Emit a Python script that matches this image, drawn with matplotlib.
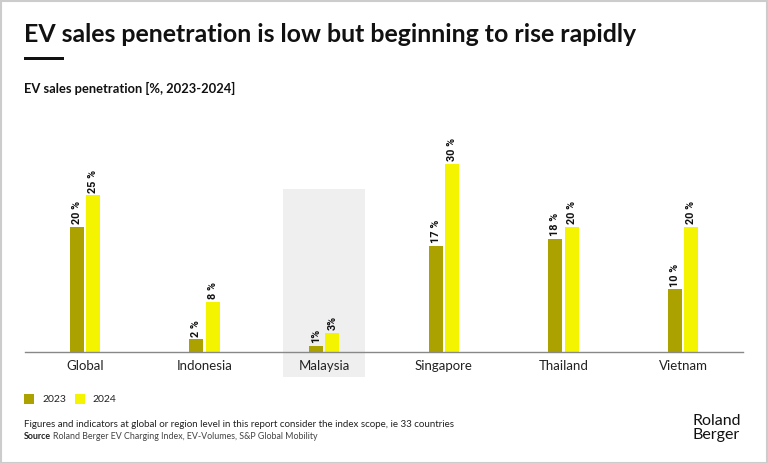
import matplotlib
matplotlib.use('Agg')
import matplotlib.pyplot as plt
from matplotlib.patches import Rectangle
import numpy as np

plt.rcParams['font.family'] = ['Lato', 'DejaVu Sans']

countries = ['Global', 'Indonesia', 'Malaysia', 'Singapore', 'Thailand', 'Vietnam']
sales_2023 = [20, 2, 1, 17, 18, 10]
sales_2024 = [25, 8, 3, 30, 20, 20]
labels_2023 = ['20 %', '2 %', '1%', '17 %', '18 %', '10 %']
labels_2024 = ['25 %', '8 %', '3%', '30 %', '20 %', '20 %']
highlight = 'Malaysia'

col23 = '#aba200'
col24 = '#f4f400'

W, H = 768, 464
fig = plt.figure(figsize=(W / 100, H / 100), dpi=100)

# axes: baseline at y=353px, x from 25 to 743 px
ax = fig.add_axes([25 / W, 1 - 353 / H, 718 / W, 213 / H])
x = np.arange(len(countries))
bw = 0.118
off = 0.069

# highlight box behind Malaysia
hi = countries.index(highlight)
ax.add_patch(Rectangle((hi - 0.343, -4.0), 0.686, 30.0, facecolor='#efefef',
                       edgecolor='none', clip_on=False, zorder=0))

ax.bar(x - off, sales_2023, bw, color=col23, zorder=2, label='2023')
ax.bar(x + off, sales_2024, bw, color=col24, zorder=2, label='2024')

for xi, v, t in zip(x - off, sales_2023, labels_2023):
    ax.text(xi, v + 0.6, t, rotation=90, ha='center', va='bottom',
            fontsize=7.8, fontweight='bold', family='Roboto', color='#111111')
for xi, v, t in zip(x + off, sales_2024, labels_2024):
    ax.text(xi, v + 0.6, t, rotation=90, ha='center', va='bottom',
            fontsize=7.8, fontweight='bold', family='Roboto', color='#111111')

ax.set_xlim(-0.5, len(countries) - 0.5)
ax.set_ylim(0, 34)
ax.set_xticks(x)
ax.set_xticklabels(countries, fontsize=9.5, color='#222222')
ax.tick_params(axis='x', length=0, pad=5)
ax.set_yticks([])
for s in ['top', 'right', 'left']:
    ax.spines[s].set_visible(False)
ax.spines['bottom'].set_color('#888888')
ax.spines['bottom'].set_linewidth(1)
ax.patch.set_alpha(0)

# title and subtitle
fig.text(24 / W, 1 - 42 / H, 'EV sales penetration is low but beginning to rise rapidly',
         fontsize=17.9, fontweight='bold', color='#111111', va='baseline')
fig.patches.append(Rectangle((24 / W, 1 - 61 / H), 40 / W, 3.5 / H, facecolor='#111111',
                             edgecolor='none', transform=fig.transFigure))
fig.text(24 / W, 1 - 93 / H, 'EV sales penetration [%, 2023-2024]',
         fontsize=9.3, fontweight='bold', color='#111111', va='baseline')

# legend
fig.patches.append(Rectangle((24 / W, 1 - 405 / H), 10 / W, 10 / H, facecolor=col23,
                             edgecolor='none', transform=fig.transFigure))
fig.text(42 / W, 1 - 400 / H, '2023', fontsize=7.5, color='#222222', va='center')
fig.patches.append(Rectangle((75 / W, 1 - 405 / H), 10 / W, 10 / H, facecolor=col24,
                             edgecolor='none', transform=fig.transFigure))
fig.text(92 / W, 1 - 400 / H, '2024', fontsize=7.5, color='#222222', va='center')

# footnotes
fig.text(24 / W, 1 - 427 / H,
         'Figures and indicators at global or region level in this report consider the index scope, ie 33 countries',
         fontsize=7.0, color='#222222', va='baseline')
src = fig.text(24 / W, 1 - 439 / H, 'Source', fontsize=6.4, fontweight='bold', color='#222222', va='baseline')
fig.canvas.draw()
bb = src.get_window_extent()
fig.text((bb.x1 + 2) / W, 1 - 439 / H, 'Roland Berger EV Charging Index, EV-Volumes, S&P Global Mobility',
         fontsize=6.4, color='#444444', va='baseline')

# logo
fig.text(693 / W, 1 - 428 / H, 'Roland\nBerger', fontsize=11.5, color='#111111',
         va='center', ha='left', linespacing=0.95)

# outer border
fig.patches.append(Rectangle((0.5 / W, 0.5 / H), (W - 2) / W, (H - 2) / H, facecolor='none',
                             edgecolor='#cccccc', linewidth=1.5, transform=fig.transFigure))

fig.savefig('out.png', dpi=100, facecolor='white')
